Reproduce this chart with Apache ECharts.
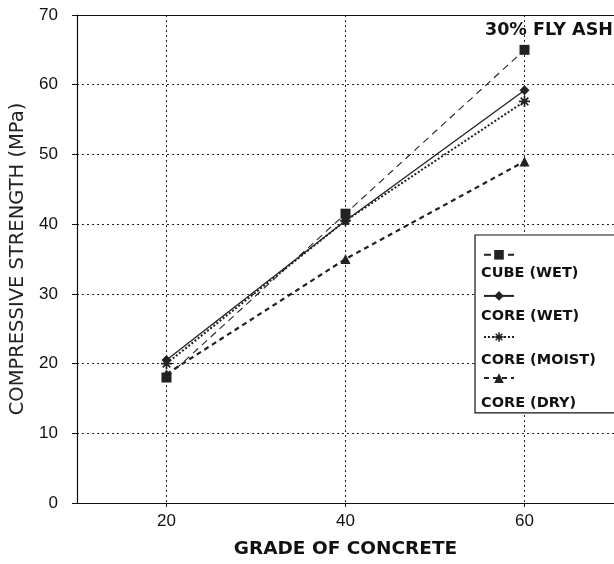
<!DOCTYPE html>
<html><head><meta charset="utf-8">
<script src="https://cdn.jsdelivr.net/npm/echarts@6/dist/echarts.min.js"></script>
<style>html,body{margin:0;padding:0;background:#fff}#c{width:614px;height:564px}</style>
</head><body><div id="c"></div>
<script>
const grades = [20, 40, 60];
const cubeWet = [18, 41.5, 65];
const coreWet = [20.5, 40.5, 59.2];
const coreMoist = [20, 40.5, 57.6];
const coreDry = [18.5, 35, 49];
const names = ['CUBE (WET)', 'CORE (WET)', 'CORE (MOIST)', 'CORE (DRY)'];
const yTicks = [0, 10, 20, 30, 40, 50, 60, 70];

const NUMFONT = '"Liberation Sans", Arial, sans-serif';
const FONT = '"DejaVu Sans", sans-serif';
const asterisk = 'path://M4.2,0h1.6v10h-1.6z M0,4.2h10v1.6h-10z M1,2.1 L2.1,1 L9,7.9 L7.9,9z M7.9,1 L9,2.1 L2.1,9 L1,7.9z';
function pairs(v){ return grades.map((g,i)=>[g, v[i]]); }

const chart = echarts.init(document.getElementById('c'));
chart.setOption({
  animation: false,
  backgroundColor: '#fff',
  textStyle: { fontFamily: FONT },
  title: {
    text: '30% FLY ASH', left: 485, top: 21, padding: 0,
    textStyle: { fontFamily: FONT, fontSize: 17.5, fontWeight: 'bold', color: '#111' }
  },
  grid: { left: 77, right: -2, top: 15, bottom: 59 },
  xAxis: [{
    type: 'value', min: 10, max: 70, interval: 10,
    name: 'GRADE OF CONCRETE', nameLocation: 'middle', nameGap: 37,
    nameTextStyle: { fontFamily: FONT, fontSize: 18.5, fontWeight: 'bold', color: '#111' },
    axisLine: { lineStyle: { color: '#111', width: 1.2 } },
    axisTick: { customValues: grades, length: 4, inside: false, lineStyle: { color: '#111' } },
    axisLabel: { customValues: grades, fontFamily: NUMFONT, fontSize: 17, color: '#111', margin: 10 },
    splitLine: { show: true, lineStyle: { color: '#222', type: [2, 3], width: 1 } }
  }, {
    type: 'value', min: 10, max: 70, position: 'top',
    axisLine: { show: true, onZero: false, lineStyle: { color: '#111', width: 1.2 } },
    axisTick: { show: false }, axisLabel: { show: false }, splitLine: { show: false }
  }],
  yAxis: {
    type: 'value', min: 0, max: 70, interval: 10,
    name: 'COMPRESSIVE STRENGTH (MPa)', nameLocation: 'middle', nameGap: 42,
    nameTextStyle: { fontFamily: FONT, fontSize: 19.5, color: '#222' },
    axisLine: { show: true, lineStyle: { color: '#111', width: 1.2 } },
    axisTick: { show: true, length: 5, lineStyle: { color: '#111' } },
    axisLabel: { fontFamily: NUMFONT, fontSize: 17, color: '#111', margin: 19 },
    splitLine: { show: true, lineStyle: { color: '#222', type: [2, 3], width: 1 } }
  },
  legend: [{
    orient: 'vertical', left: 475, top: 235,
    padding: [15, 102, 30, 8],
    borderColor: '#111', borderWidth: 1.2, backgroundColor: '#fff',
    itemWidth: 30, itemHeight: 12, itemGap: 31.5,
    data: names,
    formatter: () => '',
    textStyle: { fontSize: 12, lineHeight: 12 },
    selectedMode: false
  }, {
    orient: 'vertical', left: 481, top: 265,
    padding: 0,
    icon: 'none', itemWidth: 0, itemHeight: 16, itemGap: 27.5,
    data: names,
    textStyle: { fontFamily: FONT, fontSize: 14.5, fontWeight: 'bold', color: '#111', lineHeight: 16, padding: [0,0,0,-5] },
    selectedMode: false
  }],
  series: [
    { name: names[0], type: 'line', data: pairs(cubeWet), symbol: 'rect', symbolSize: 10,
      itemStyle: { color: '#222' }, lineStyle: { color: '#222', width: 1.1, type: [7, 5] } },
    { name: names[1], type: 'line', data: pairs(coreWet), symbol: 'diamond', symbolSize: 10,
      itemStyle: { color: '#222' }, lineStyle: { color: '#222', width: 1.3, type: 'solid' } },
    { name: names[2], type: 'line', data: pairs(coreMoist), symbol: asterisk, symbolSize: 11,
      itemStyle: { color: '#222' }, lineStyle: { color: '#222', width: 2, type: [2, 2] } },
    { name: names[3], type: 'line', data: pairs(coreDry), symbol: 'triangle', symbolSize: 10,
      itemStyle: { color: '#222' }, lineStyle: { color: '#222', width: 2.2, type: [5, 4] } }
  ]
});
</script></body></html>
